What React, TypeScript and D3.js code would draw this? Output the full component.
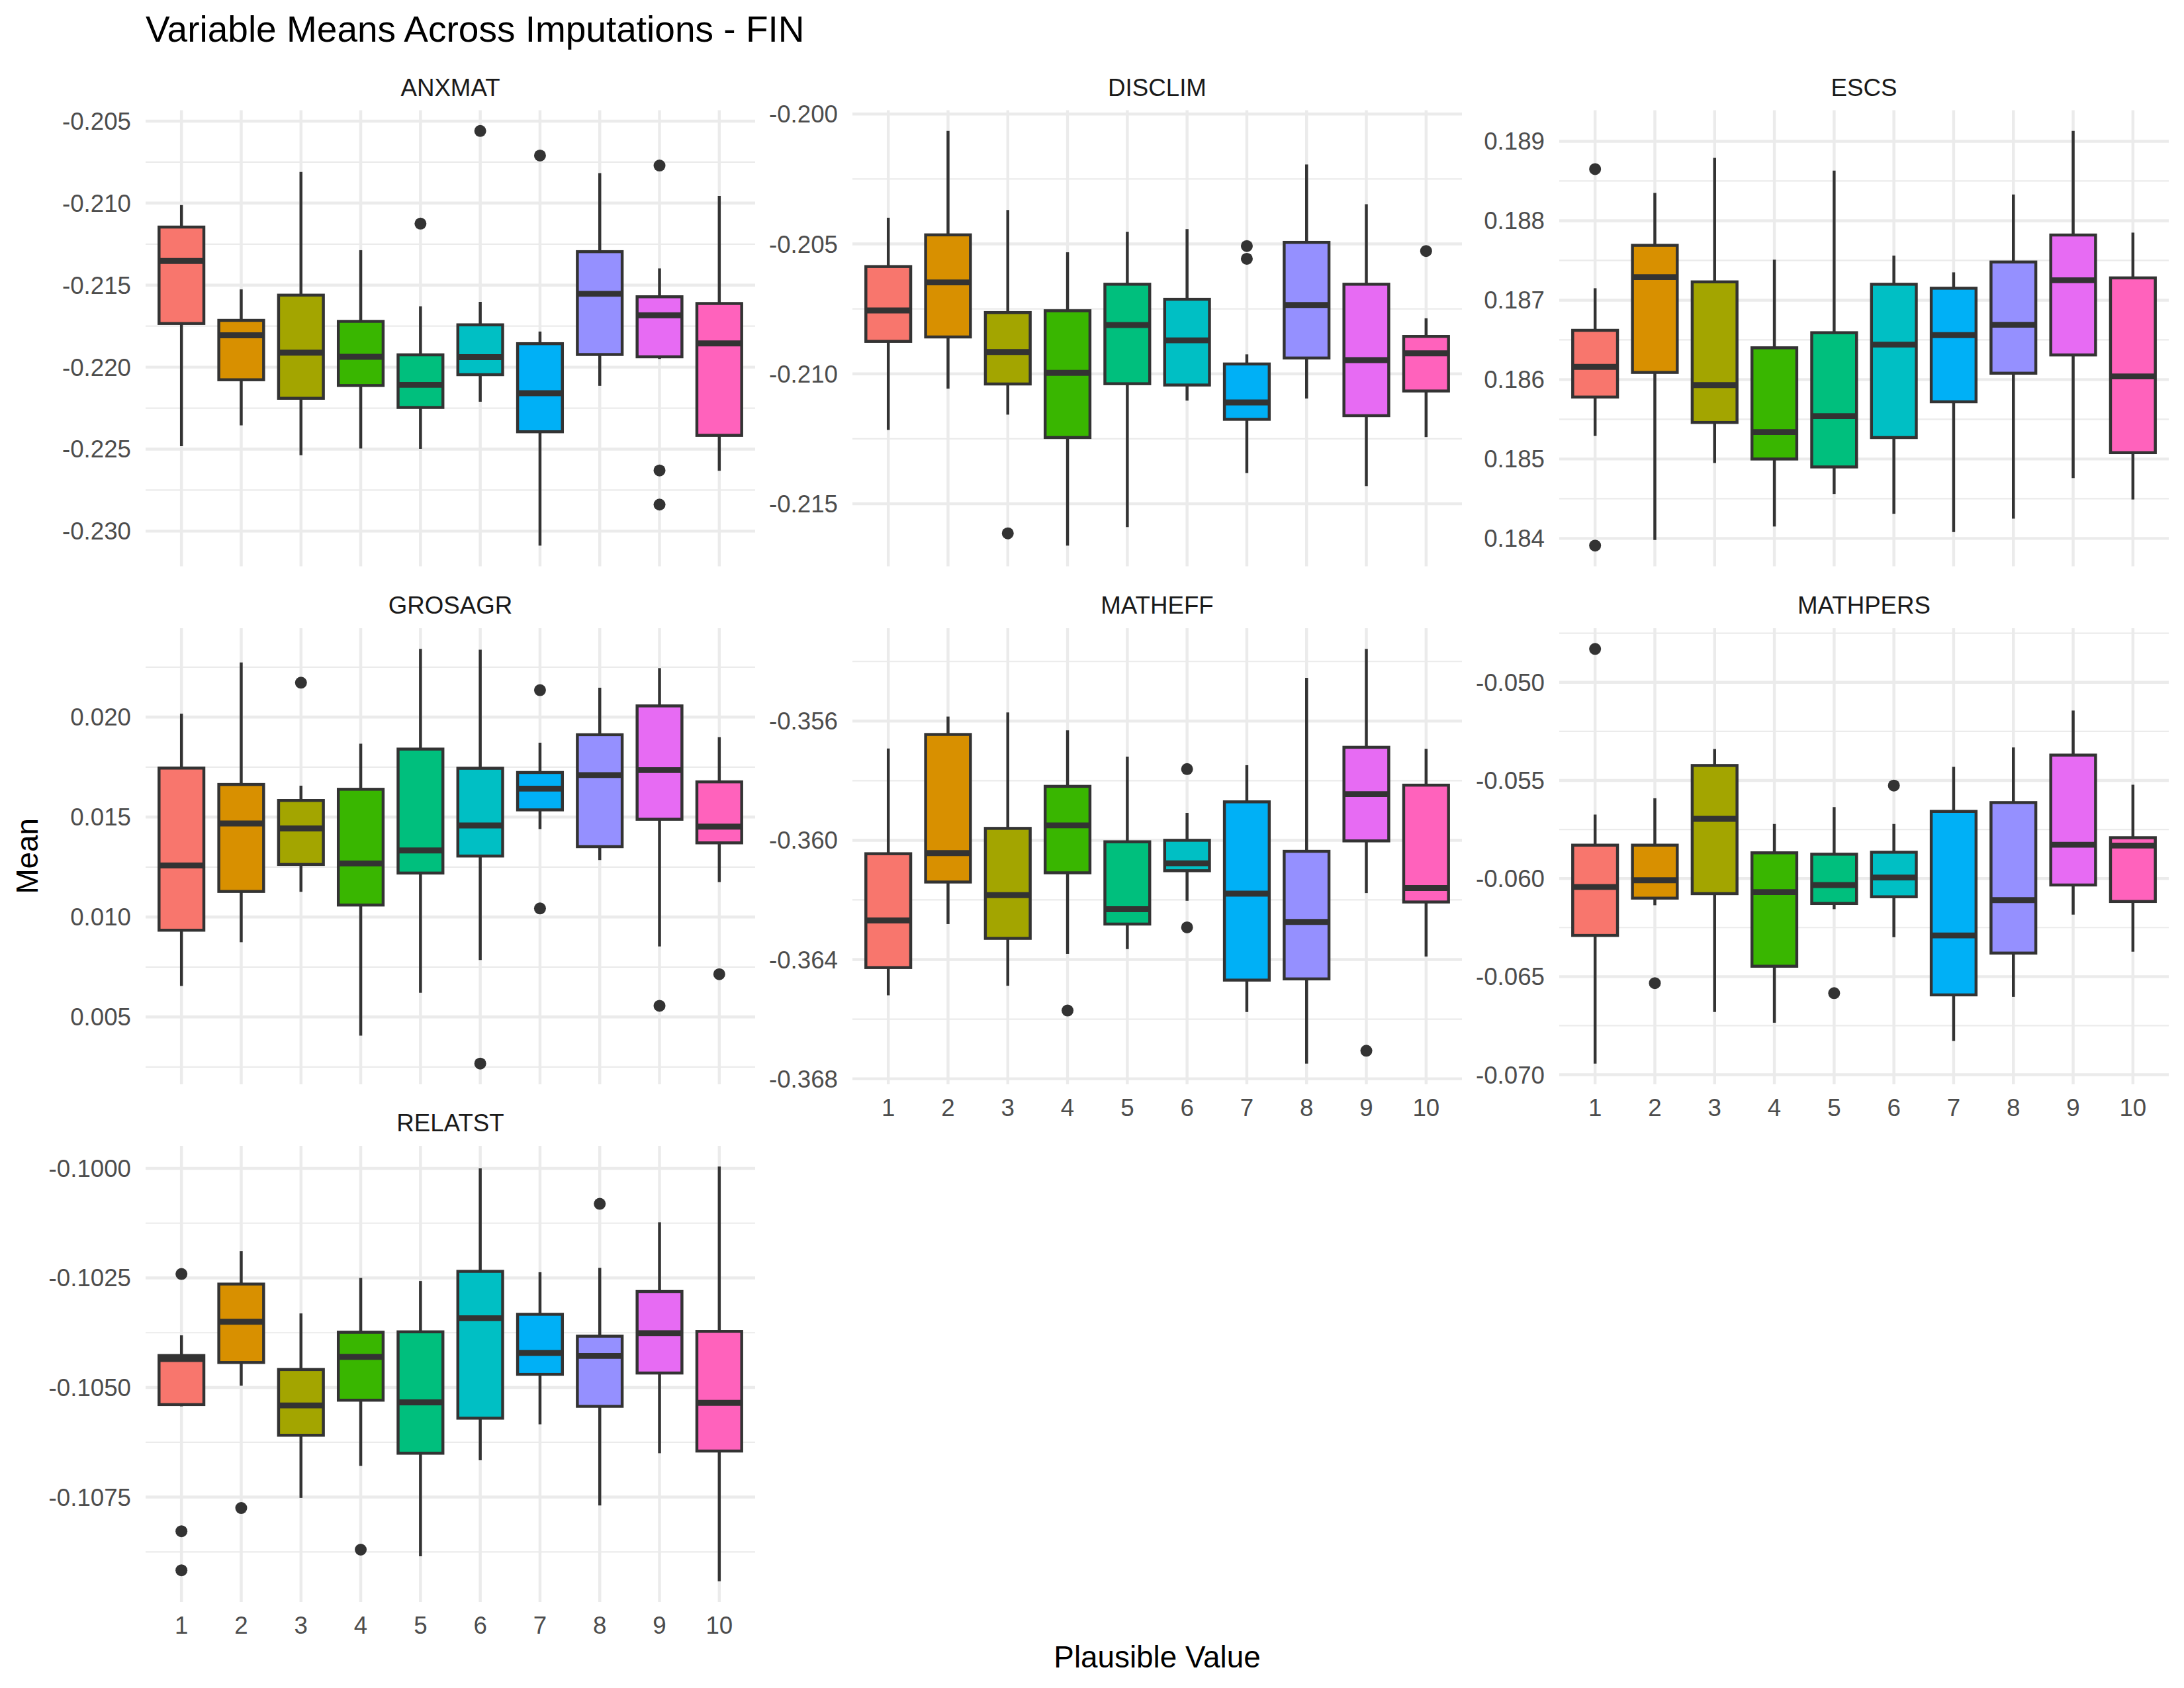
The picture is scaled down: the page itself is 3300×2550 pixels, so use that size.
import React from "react";
import * as d3 from "d3";

const W = 3300;
const H = 2550;
const FONT = "'Liberation Sans', Arial, Helvetica, sans-serif";

const variables = ["ANXMAT", "DISCLIM", "ESCS", "GROSAGR", "MATHEFF", "MATHPERS", "RELATST"];
const plausibleValues = [1, 2, 3, 4, 5, 6, 7, 8, 9, 10];
const hueColors = [
  "#F8766D", "#D89000", "#A3A500", "#39B600", "#00BF7D",
  "#00BFC4", "#00B0F6", "#9590FF", "#E76BF3", "#FF62BC"
];

// each row: [lower whisker, Q1, median, Q3, upper whisker], PV 1..10
const anxmatBoxes = [
  [-0.22482, -0.21734, -0.21353, -0.21146, -0.21012],
  [-0.22355, -0.22077, -0.21806, -0.21715, -0.21526],
  [-0.22537, -0.2219, -0.21912, -0.21561, -0.2081],
  [-0.22496, -0.22112, -0.21937, -0.21721, -0.21287],
  [-0.22498, -0.22246, -0.22108, -0.21925, -0.21629],
  [-0.22211, -0.22046, -0.21939, -0.21742, -0.21602],
  [-0.23088, -0.22394, -0.22159, -0.21857, -0.21783],
  [-0.22114, -0.21923, -0.21553, -0.21296, -0.20817],
  [-0.2195, -0.21937, -0.21684, -0.21571, -0.21398],
  [-0.22632, -0.22416, -0.21855, -0.21612, -0.20956]
];
const anxmatOutliers = [[5, -0.21125], [6, -0.2056], [7, -0.2071], [9, -0.20771], [9, -0.2263], [9, -0.22838]];
const anxmatTicks = [-0.23, -0.225, -0.22, -0.215, -0.21, -0.205];
const anxmatTickLabels = ["-0.230", "-0.225", "-0.220", "-0.215", "-0.210", "-0.205"];

const disclimBoxes = [
  [-0.21216, -0.20875, -0.20756, -0.20587, -0.20399],
  [-0.21057, -0.20858, -0.20648, -0.20465, -0.20065],
  [-0.21157, -0.21039, -0.20916, -0.20764, -0.20369],
  [-0.21661, -0.21245, -0.20996, -0.20757, -0.20532],
  [-0.2159, -0.21038, -0.20812, -0.20655, -0.20453],
  [-0.21103, -0.21043, -0.20871, -0.20713, -0.20443],
  [-0.21382, -0.21175, -0.2111, -0.20962, -0.20925],
  [-0.21095, -0.20939, -0.20735, -0.20494, -0.20194],
  [-0.21432, -0.21161, -0.20947, -0.20655, -0.20347],
  [-0.21243, -0.21066, -0.20921, -0.20856, -0.20786]
];
const disclimOutliers = [[3, -0.21614], [7, -0.20508], [7, -0.20557], [10, -0.20527]];
const disclimTicks = [-0.215, -0.21, -0.205, -0.2];
const disclimTickLabels = ["-0.215", "-0.210", "-0.205", "-0.200"];

const escsBoxes = [
  [0.18529, 0.18578, 0.18616, 0.18662, 0.18715],
  [0.18398, 0.18609, 0.18729, 0.18769, 0.18835],
  [0.18495, 0.18546, 0.18593, 0.18723, 0.18879],
  [0.18415, 0.185, 0.18534, 0.1864, 0.18751],
  [0.18456, 0.1849, 0.18554, 0.18659, 0.18863],
  [0.18431, 0.18527, 0.18644, 0.1872, 0.18756],
  [0.18408, 0.18572, 0.18656, 0.18715, 0.18735],
  [0.18425, 0.18608, 0.18669, 0.18748, 0.18833],
  [0.18476, 0.18631, 0.18725, 0.18782, 0.18913],
  [0.18449, 0.18508, 0.18604, 0.18728, 0.18785]
];
const escsOutliers = [[1, 0.18865], [1, 0.18391]];
const escsTicks = [0.184, 0.185, 0.186, 0.187, 0.188, 0.189];
const escsTickLabels = ["0.184", "0.185", "0.186", "0.187", "0.188", "0.189"];

const grosagrBoxes = [
  [0.00655, 0.00934, 0.01258, 0.01745, 0.02017],
  [0.00874, 0.01128, 0.01468, 0.01663, 0.02273],
  [0.01126, 0.01263, 0.01443, 0.01583, 0.01657],
  [0.00407, 0.0106, 0.01268, 0.01639, 0.01867],
  [0.00621, 0.0122, 0.01333, 0.0184, 0.02341],
  [0.00785, 0.01305, 0.01458, 0.01744, 0.02337],
  [0.0144, 0.01536, 0.01642, 0.01723, 0.01872],
  [0.01285, 0.01352, 0.0171, 0.01912, 0.02147],
  [0.00853, 0.01489, 0.01735, 0.02056, 0.02245],
  [0.01175, 0.01371, 0.01452, 0.01676, 0.019]
];
const grosagrOutliers = [[3, 0.02172], [6, 0.00267], [7, 0.02135], [7, 0.01043], [9, 0.00556], [10, 0.00714]];
const grosagrTicks = [0.005, 0.01, 0.015, 0.02];
const grosagrTickLabels = ["0.005", "0.010", "0.015", "0.020"];

const matheffBoxes = [
  [-0.3652, -0.36427, -0.36269, -0.36045, -0.35692],
  [-0.36281, -0.3614, -0.36043, -0.35645, -0.35585],
  [-0.36488, -0.36329, -0.36184, -0.3596, -0.35571],
  [-0.36381, -0.36109, -0.3595, -0.35819, -0.35631],
  [-0.36365, -0.36281, -0.36231, -0.36005, -0.35719],
  [-0.36203, -0.36102, -0.36077, -0.36, -0.35908],
  [-0.36576, -0.36469, -0.36179, -0.35871, -0.35748],
  [-0.36749, -0.36465, -0.36274, -0.36037, -0.35455],
  [-0.36177, -0.36002, -0.35845, -0.35688, -0.35358],
  [-0.3639, -0.36207, -0.3616, -0.35815, -0.35693]
];
const matheffOutliers = [[4, -0.36571], [6, -0.35761], [6, -0.36292], [9, -0.36706]];
const matheffTicks = [-0.368, -0.364, -0.36, -0.356];
const matheffTickLabels = ["-0.368", "-0.364", "-0.360", "-0.356"];

const mathpersBoxes = [
  [-0.06943, -0.0629, -0.06043, -0.0583, -0.05674],
  [-0.06136, -0.061, -0.06009, -0.0583, -0.05591],
  [-0.0668, -0.06077, -0.05696, -0.05424, -0.0534],
  [-0.06735, -0.06447, -0.06069, -0.05869, -0.05722],
  [-0.06156, -0.06127, -0.06033, -0.05876, -0.05636],
  [-0.06299, -0.06093, -0.05995, -0.05866, -0.05722],
  [-0.06828, -0.06593, -0.0629, -0.05658, -0.05431],
  [-0.06603, -0.0638, -0.0611, -0.05613, -0.05332],
  [-0.06184, -0.06033, -0.05828, -0.05371, -0.05144],
  [-0.06373, -0.06117, -0.05832, -0.05792, -0.05522]
];
const mathpersOutliers = [[1, -0.0483], [2, -0.06533], [5, -0.06584], [6, -0.05526]];
const mathpersTicks = [-0.07, -0.065, -0.06, -0.055, -0.05];
const mathpersTickLabels = ["-0.070", "-0.065", "-0.060", "-0.055", "-0.050"];

const relatstBoxes = [
  [-0.10543, -0.10539, -0.10435, -0.10427, -0.10381],
  [-0.10496, -0.10443, -0.1035, -0.10264, -0.10189],
  [-0.10752, -0.10609, -0.10541, -0.10459, -0.10331],
  [-0.10679, -0.10529, -0.1043, -0.10374, -0.1025],
  [-0.10885, -0.1065, -0.10534, -0.10373, -0.10257],
  [-0.10666, -0.1057, -0.10342, -0.10235, -0.1],
  [-0.10584, -0.1047, -0.10421, -0.10333, -0.10237],
  [-0.10769, -0.10543, -0.10428, -0.10383, -0.10227],
  [-0.1065, -0.10467, -0.10376, -0.10281, -0.10123],
  [-0.10942, -0.10645, -0.10535, -0.10372, -0.09996]
];
const relatstOutliers = [[1, -0.10241], [1, -0.10828], [1, -0.10917], [2, -0.10775], [4, -0.1087], [8, -0.10081]];
const relatstTicks = [-0.1075, -0.105, -0.1025, -0.1];
const relatstTickLabels = ["-0.1075", "-0.1050", "-0.1025", "-0.1000"];

const panels = [
  { boxes: anxmatBoxes, outliers: anxmatOutliers, ticks: anxmatTicks, labels: anxmatTickLabels },
  { boxes: disclimBoxes, outliers: disclimOutliers, ticks: disclimTicks, labels: disclimTickLabels },
  { boxes: escsBoxes, outliers: escsOutliers, ticks: escsTicks, labels: escsTickLabels },
  { boxes: grosagrBoxes, outliers: grosagrOutliers, ticks: grosagrTicks, labels: grosagrTickLabels },
  { boxes: matheffBoxes, outliers: matheffOutliers, ticks: matheffTicks, labels: matheffTickLabels },
  { boxes: mathpersBoxes, outliers: mathpersOutliers, ticks: mathpersTicks, labels: mathpersTickLabels },
  { boxes: relatstBoxes, outliers: relatstOutliers, ticks: relatstTicks, labels: relatstTickLabels }
];

// facet grid geometry
const colLeft = [220, 1288, 2356];
const rowTop = [166.5, 949, 1731];
const panelW = 921;
const panelH = 689;

const gridColor = "#EBEBEB";
const lineColor = "#333333";

function Panel({ idx }: { idx: number }) {
  const p = panels[idx];
  const col = idx % 3;
  const row = Math.floor(idx / 3);
  const x0 = colLeft[col];
  const y0 = rowTop[row];

  const x = d3
    .scalePoint<number>()
    .domain(plausibleValues)
    .range([x0, x0 + panelW])
    .padding(0.6);

  const all = [...p.boxes.flat(), ...p.outliers.map(o => o[1])];
  const [lo, hi] = d3.extent(all) as [number, number];
  const pad = (hi - lo) * 0.05;
  const y = d3
    .scaleLinear()
    .domain([lo - pad, hi + pad])
    .range([y0 + panelH, y0]);

  const step = p.ticks[1] - p.ticks[0];
  const ext = [p.ticks[0] - step, ...p.ticks, p.ticks[p.ticks.length - 1] + step];
  const minor = d3
    .pairs(ext)
    .map(([a, b]) => (a + b) / 2)
    .filter(m => m >= lo - pad && m <= hi + pad);

  const bw = x.step() * 0.75;
  const showX = idx >= 4;

  return (
    <g>
      {/* grid */}
      {minor.map((m, i) => (
        <line key={"mn" + i} x1={x0} x2={x0 + panelW} y1={y(m)} y2={y(m)} stroke={gridColor} strokeWidth={2.2} />
      ))}
      {p.ticks.map((t, i) => (
        <line key={"mj" + i} x1={x0} x2={x0 + panelW} y1={y(t)} y2={y(t)} stroke={gridColor} strokeWidth={4.45} />
      ))}
      {plausibleValues.map(v => (
        <line key={"vx" + v} x1={x(v)} x2={x(v)} y1={y0} y2={y0 + panelH} stroke={gridColor} strokeWidth={4.45} />
      ))}

      {/* y tick labels */}
      {p.ticks.map((t, i) => (
        <text key={"yl" + i} x={x0 - 22} y={y(t) + 13} textAnchor="end" fontSize={36.7} fill="#4D4D4D">
          {p.labels[i]}
        </text>
      ))}

      {/* strip */}
      <text x={x0 + panelW / 2} y={y0 - 22} textAnchor="middle" fontSize={36.7} fill="#1A1A1A">
        {variables[idx]}
      </text>

      {/* boxes */}
      {p.boxes.map((b, i) => {
        const cx = x(plausibleValues[i]) as number;
        const [wLo, q1, med, q3, wHi] = b;
        return (
          <g key={"b" + i}>
            <line x1={cx} x2={cx} y1={y(q3)} y2={y(wHi)} stroke={lineColor} strokeWidth={4.45} />
            <line x1={cx} x2={cx} y1={y(q1)} y2={y(wLo)} stroke={lineColor} strokeWidth={4.45} />
            <rect
              x={cx - bw / 2}
              y={y(q3)}
              width={bw}
              height={Math.max(0, y(q1) - y(q3))}
              fill={hueColors[i]}
              stroke={lineColor}
              strokeWidth={4.45}
            />
            <line x1={cx - bw / 2} x2={cx + bw / 2} y1={y(med)} y2={y(med)} stroke={lineColor} strokeWidth={8.9} />
          </g>
        );
      })}

      {/* outliers */}
      {p.outliers.map((o, i) => (
        <circle key={"o" + i} cx={x(o[0]) as number} cy={y(o[1])} r={9} fill={lineColor} />
      ))}

      {/* x tick labels */}
      {showX &&
        plausibleValues.map(v => (
          <text key={"xl" + v} x={x(v)} y={y0 + panelH + 48} textAnchor="middle" fontSize={36.7} fill="#4D4D4D">
            {v}
          </text>
        ))}
    </g>
  );
}

export default function App() {
  return (
    <svg
      width={W}
      height={H}
      viewBox={`0 0 ${W} ${H}`}
      style={{ position: "absolute", left: 0, top: 0, background: "#FFFFFF" }}
      fontFamily={FONT}
    >
      <rect x={0} y={0} width={W} height={H} fill="#FFFFFF" />
      <text x={220} y={63} fontSize={55} fill="#000000">
        Variable Means Across Imputations - FIN
      </text>
      {variables.map((v, i) => (
        <Panel key={v} idx={i} />
      ))}
      <text
        transform={`translate(57, ${(rowTop[0] + rowTop[2] + panelH) / 2}) rotate(-90)`}
        textAnchor="middle"
        fontSize={45.8}
        fill="#000000"
      >
        Mean
      </text>
      <text x={(colLeft[0] + colLeft[2] + panelW) / 2} y={2519} textAnchor="middle" fontSize={45.8} fill="#000000">
        Plausible Value
      </text>
    </svg>
  );
}
